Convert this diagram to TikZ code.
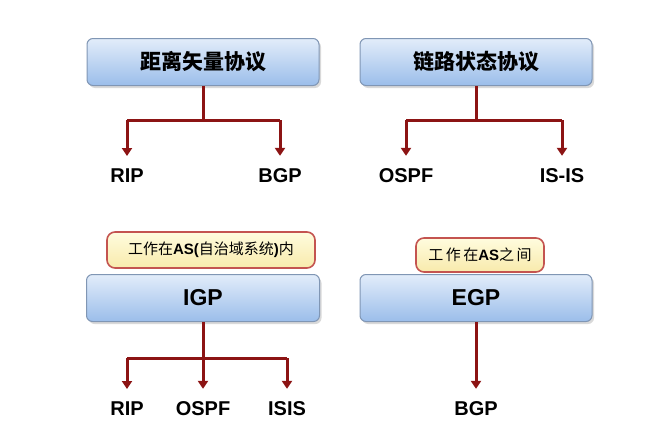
\documentclass[tikz,border=0pt]{standalone}
\usepackage{fontspec}
\setmainfont{Liberation Sans}
\newfontfamily\cjk{Noto Sans CJK SC}
\usetikzlibrary{arrows.meta,shadows}
\definecolor{arr}{RGB}{140,20,20}
\definecolor{bluetop}{RGB}{226,236,250}
\definecolor{bluebot}{RGB}{155,190,234}
\definecolor{blueline}{RGB}{128,150,180}
\definecolor{yeltop}{RGB}{255,252,222}
\definecolor{yelbot}{RGB}{248,234,172}
\definecolor{yelline}{RGB}{196,84,80}
\tikzset{
  bluebox/.style={draw=blueline, line width=1pt, rounded corners=6pt,
    top color=bluetop, bottom color=bluebot,
    drop shadow={shadow xshift=2pt, shadow yshift=-2.5pt, opacity=0.3},
    inner sep=0pt, font=\bfseries},
  yelbox/.style={draw=yelline, line width=1.6pt, rounded corners=8pt,
    top color=yeltop, bottom color=yelbot, inner sep=0pt,
    font=\fontsize{15}{15}\selectfont},
  lbl/.style={inner sep=0pt, anchor=base, font=\fontsize{20}{20}\selectfont\bfseries},
  link/.style={draw=arr, line width=3pt},
  arrow/.style={link, -{Triangle[length=8pt,width=10pt]}, shorten >=12pt}
}
\begin{document}
\begin{tikzpicture}[x=1pt,y=-1pt]
\useasboundingbox (0,0) rectangle (662,439);
% top left
\node[bluebox, minimum width=232pt, minimum height=47pt] (b1) at (203,62)
  {\cjk\fontsize{21}{21}\selectfont\bfseries 距离矢量协议};
\node[lbl] (rip1) at (127,182) {RIP};
\node[lbl] (bgp1) at (280,182) {BGP};
\coordinate (j1) at (203,120);
\draw[link] (b1.south) -- (j1);
\draw[link] (rip1.north |- j1) -- (bgp1.north |- j1);
\draw[arrow] (rip1.north |- j1) -- (rip1.north);
\draw[arrow] (bgp1.north |- j1) -- (bgp1.north);
% top right
\node[bluebox, minimum width=232pt, minimum height=47pt] (b2) at (476,62)
  {\cjk\fontsize{21}{21}\selectfont\bfseries 链路状态协议};
\node[lbl] (ospf1) at (406,182) {OSPF};
\node[lbl] (isis1) at (562,182) {IS-IS};
\coordinate (j2) at (477,120);
\draw[link] (b2.south) -- (b2.south |- j2);
\draw[link] (ospf1.north |- j2) -- (isis1.north |- j2);
\draw[arrow] (ospf1.north |- j2) -- (ospf1.north);
\draw[arrow] (isis1.north |- j2) -- (isis1.north);
% bottom left
\node[yelbox, minimum width=208pt, minimum height=36pt] (y1) at (211,250)
  {\cjk 工作在\textbf{\rmfamily AS(}自治域系统\textbf{\rmfamily )}内};
\node[bluebox, minimum width=233pt, minimum height=47pt] (b3) at (203,298)
  {\fontsize{23}{23}\selectfont IGP};
\node[lbl] (rip2) at (127,415) {RIP};
\node[lbl] (ospf2) at (203,415) {OSPF};
\node[lbl] (isis2) at (287,415) {ISIS};
\coordinate (j3) at (203,358);
\draw[link] (b3.south) -- (j3);
\draw[link] (rip2.north |- j3) -- (isis2.north |- j3);
\draw[arrow] (rip2.north |- j3) -- (rip2.north);
\draw[arrow] (j3) -- (ospf2.north);
\draw[arrow] (isis2.north |- j3) -- (isis2.north);
% bottom right
\node[yelbox, minimum width=128pt, minimum height=34pt] (y2) at (480,255)
  {\cjk 工\,作\,在\textbf{\rmfamily AS}之\,间};
\node[bluebox, minimum width=232pt, minimum height=47pt] (b4) at (476,298)
  {\fontsize{23}{23}\selectfont EGP};
\node[lbl] (bgp2) at (476,415) {BGP};
\draw[arrow] (b4.south) -- (bgp2.north);
\end{tikzpicture}
\end{document}
